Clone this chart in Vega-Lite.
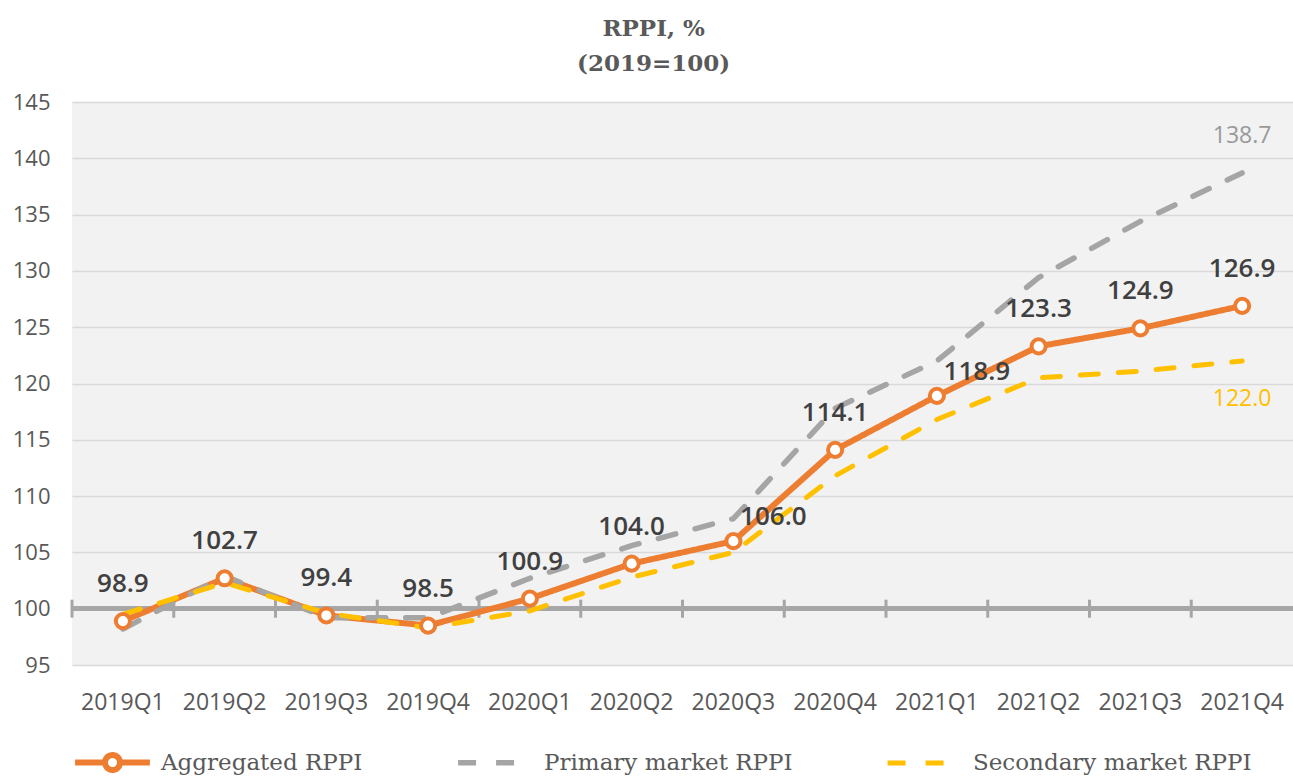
{
  "$schema": "https://vega.github.io/schema/vega-lite/v6.json",
  "width": 1221,
  "height": 563,
  "autosize": {"type": "none"},
  "padding": {"left": 72, "top": 102, "right": 0, "bottom": 111},
  "background": "#ffffff",
  "title": {
    "text": ["RPPI, %", "(2019=100)"],
    "font": "DejaVu Serif",
    "fontSize": 23,
    "fontWeight": "bold",
    "color": "#595959",
    "lineHeight": 35,
    "offset": 15,
    "anchor": "middle",
    "frame": "bounds"
  },
  "data": {
    "values": [
      {"q": "2019Q1", "series": "Aggregated RPPI", "value": 98.9},
      {"q": "2019Q2", "series": "Aggregated RPPI", "value": 102.7},
      {"q": "2019Q3", "series": "Aggregated RPPI", "value": 99.4},
      {"q": "2019Q4", "series": "Aggregated RPPI", "value": 98.5},
      {"q": "2020Q1", "series": "Aggregated RPPI", "value": 100.9},
      {"q": "2020Q2", "series": "Aggregated RPPI", "value": 104.0},
      {"q": "2020Q3", "series": "Aggregated RPPI", "value": 106.0},
      {"q": "2020Q4", "series": "Aggregated RPPI", "value": 114.1},
      {"q": "2021Q1", "series": "Aggregated RPPI", "value": 118.9},
      {"q": "2021Q2", "series": "Aggregated RPPI", "value": 123.3},
      {"q": "2021Q3", "series": "Aggregated RPPI", "value": 124.9},
      {"q": "2021Q4", "series": "Aggregated RPPI", "value": 126.9},
      {"q": "2019Q1", "series": "Primary market RPPI", "value": 98.2},
      {"q": "2019Q2", "series": "Primary market RPPI", "value": 102.9},
      {"q": "2019Q3", "series": "Primary market RPPI", "value": 99.2},
      {"q": "2019Q4", "series": "Primary market RPPI", "value": 99.2},
      {"q": "2020Q1", "series": "Primary market RPPI", "value": 102.7},
      {"q": "2020Q2", "series": "Primary market RPPI", "value": 105.6},
      {"q": "2020Q3", "series": "Primary market RPPI", "value": 108.0},
      {"q": "2020Q4", "series": "Primary market RPPI", "value": 117.8},
      {"q": "2021Q1", "series": "Primary market RPPI", "value": 122.0},
      {"q": "2021Q2", "series": "Primary market RPPI", "value": 129.4},
      {"q": "2021Q3", "series": "Primary market RPPI", "value": 134.4},
      {"q": "2021Q4", "series": "Primary market RPPI", "value": 138.7},
      {"q": "2019Q1", "series": "Secondary market RPPI", "value": 99.5},
      {"q": "2019Q2", "series": "Secondary market RPPI", "value": 102.3},
      {"q": "2019Q3", "series": "Secondary market RPPI", "value": 99.6},
      {"q": "2019Q4", "series": "Secondary market RPPI", "value": 98.3},
      {"q": "2020Q1", "series": "Secondary market RPPI", "value": 99.8},
      {"q": "2020Q2", "series": "Secondary market RPPI", "value": 102.8},
      {"q": "2020Q3", "series": "Secondary market RPPI", "value": 105.0},
      {"q": "2020Q4", "series": "Secondary market RPPI", "value": 111.8},
      {"q": "2021Q1", "series": "Secondary market RPPI", "value": 116.8},
      {"q": "2021Q2", "series": "Secondary market RPPI", "value": 120.5},
      {"q": "2021Q3", "series": "Secondary market RPPI", "value": 121.1},
      {"q": "2021Q4", "series": "Secondary market RPPI", "value": 122.0}
    ]
  },
  "layer": [
    {
      "mark": {"type": "rule", "color": "#a6a6a6", "strokeWidth": 4},
      "encoding": {
        "y": {
          "datum": 100,
          "type": "quantitative",
          "scale": {"domain": [95, 145], "nice": false, "zero": false},
          "axis": {
            "values": [95, 100, 105, 110, 115, 120, 125, 130, 135, 140, 145],
            "title": null,
            "grid": true,
            "gridColor": "#d9d9d9",
            "gridWidth": 1.5,
            "domain": false,
            "ticks": false,
            "tickSize": 0,
            "labelPadding": 22,
            "labelFont": "Open Sans",
            "labelFontSize": 22,
            "labelColor": "#595959"
          }
        }
      }
    },
    {
      "transform": [{"filter": "datum.series === 'Aggregated RPPI'"}],
      "mark": {"type": "rule", "color": "#a6a6a6", "strokeWidth": 3},
      "encoding": {
        "x": {
          "field": "q",
          "type": "ordinal",
          "sort": null,
          "bandPosition": 0,
          "scale": {"type": "band", "paddingInner": 0, "paddingOuter": 0},
          "axis": {
            "title": null,
            "domain": false,
            "ticks": false,
            "tickSize": 0,
            "grid": false,
            "labelAngle": 0,
            "labelPadding": 26,
            "labelFont": "Open Sans",
            "labelFontSize": 23,
            "labelColor": "#595959"
          }
        },
        "y": {"datum": 99.2, "type": "quantitative"},
        "y2": {"datum": 100.8}
      }
    },
    {
      "mark": {"type": "line", "strokeCap": "round", "strokeJoin": "round"},
      "encoding": {
        "x": {"field": "q", "type": "ordinal", "sort": null, "bandPosition": 0.5},
        "y": {"field": "value", "type": "quantitative"},
        "color": {
          "field": "series",
          "type": "nominal",
          "scale": {
            "domain": ["Aggregated RPPI", "Primary market RPPI", "Secondary market RPPI"],
            "range": ["#ED7D31", "#A5A5A5", "#FFC000"]
          },
          "legend": {
            "title": null,
            "encode": {
              "symbols": {
                "update": {
                  "shape": [
                    {"test": "datum.value === 'Aggregated RPPI'", "value": "M-1,0L-0.2,0M0.2,0L1,0M0.2,0A0.2,0.2,0,1,1,-0.2,0A0.2,0.2,0,1,1,0.2,0"},
                    {"value": "M-1,0L1,0M0,-0.21L0,-0.21M0,0.21L0,0.21"}
                  ],
                  "fill": [
                    {"test": "datum.value === 'Aggregated RPPI'", "value": "#ffffff"},
                    {"value": "transparent"}
                  ]
                }
              }
            }
          }
        },
        "strokeDash": {
          "field": "series",
          "type": "nominal",
          "scale": {
            "domain": ["Aggregated RPPI", "Primary market RPPI", "Secondary market RPPI"],
            "range": [[1, 0], [18, 20], [18, 20]]
          },
          "legend": {"title": null}
        },
        "strokeWidth": {
          "field": "series",
          "type": "nominal",
          "scale": {
            "domain": ["Aggregated RPPI", "Primary market RPPI", "Secondary market RPPI"],
            "range": [6, 5, 5]
          },
          "legend": null
        }
      }
    },
    {
      "transform": [{"filter": "datum.series === 'Aggregated RPPI'"}],
      "mark": {"type": "point", "shape": "circle", "filled": true, "fill": "#ffffff", "stroke": "#ED7D31", "strokeWidth": 4, "size": 200, "opacity": 1},
      "encoding": {
        "x": {"field": "q", "type": "ordinal", "sort": null, "bandPosition": 0.5},
        "y": {"field": "value", "type": "quantitative"}
      }
    },
    {
      "transform": [{"filter": "datum.series === 'Aggregated RPPI' && datum.q !== '2020Q3' && datum.q !== '2021Q1'"}],
      "mark": {"type": "text", "dy": -37, "font": "Open Sans", "fontSize": 26, "fontWeight": 600, "color": "#404040"},
      "encoding": {
        "x": {"field": "q", "type": "ordinal", "sort": null, "bandPosition": 0.5},
        "y": {"field": "value", "type": "quantitative"},
        "text": {"field": "value", "type": "quantitative", "format": ".1f"}
      }
    },
    {
      "transform": [{"filter": "datum.series === 'Aggregated RPPI' && (datum.q === '2020Q3' || datum.q === '2021Q1')"}],
      "mark": {"type": "text", "dx": 40, "dy": -24, "font": "Open Sans", "fontSize": 26, "fontWeight": 600, "color": "#404040"},
      "encoding": {
        "x": {"field": "q", "type": "ordinal", "sort": null, "bandPosition": 0.5},
        "y": {"field": "value", "type": "quantitative"},
        "text": {"field": "value", "type": "quantitative", "format": ".1f"}
      }
    },
    {
      "transform": [{"filter": "datum.series === 'Primary market RPPI' && datum.q === '2021Q4'"}],
      "mark": {"type": "text", "dy": -37, "font": "Open Sans", "fontSize": 23, "color": "#999999"},
      "encoding": {
        "x": {"field": "q", "type": "ordinal", "sort": null, "bandPosition": 0.5},
        "y": {"field": "value", "type": "quantitative"},
        "text": {"field": "value", "type": "quantitative", "format": ".1f"}
      }
    },
    {
      "transform": [{"filter": "datum.series === 'Secondary market RPPI' && datum.q === '2021Q4'"}],
      "mark": {"type": "text", "dy": 38, "font": "Open Sans", "fontSize": 23, "color": "#FFC000"},
      "encoding": {
        "x": {"field": "q", "type": "ordinal", "sort": null, "bandPosition": 0.5},
        "y": {"field": "value", "type": "quantitative"},
        "text": {"field": "value", "type": "quantitative", "format": ".1f"}
      }
    }
  ],
  "config": {
    "view": {"fill": "#f2f2f2", "stroke": null},
    "legend": {
      "orient": "bottom",
      "direction": "horizontal",
      "offset": 8,
      "labelFont": "DejaVu Serif",
      "labelFontSize": 23,
      "labelColor": "#595959",
      "labelLimit": 400,
      "labelOffset": 8,
      "symbolSize": 5600,
      "symbolStrokeWidth": 5,
      "columnPadding": 84
    }
  }
}
